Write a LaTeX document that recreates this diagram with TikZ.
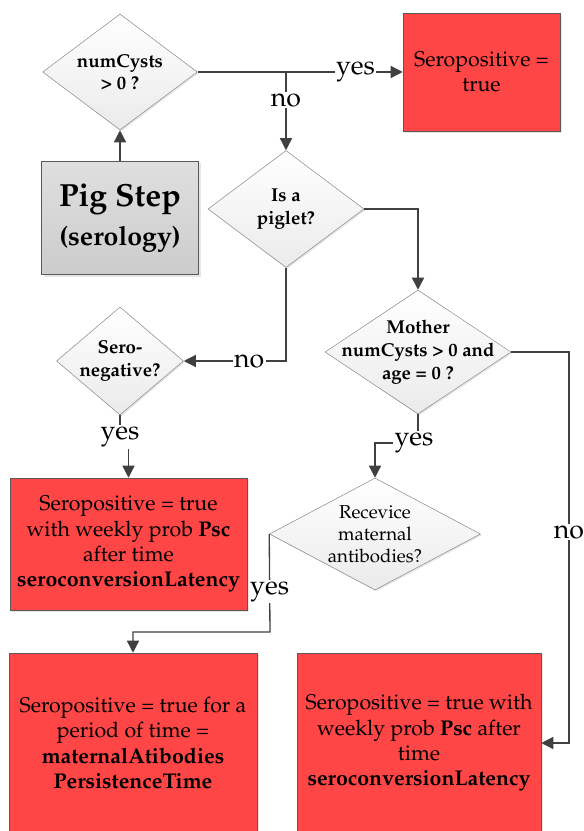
\documentclass[tikz,border=0pt]{standalone}
\usepackage[T1]{fontenc}
\usepackage{mathpazo}
\usetikzlibrary{arrows.meta,shapes.geometric,shadows}
\definecolor{boxred}{RGB}{255,70,70}
\definecolor{darkline}{RGB}{64,64,64}
\tikzstyle{query}=[diamond, draw=gray!90, top color=white, bottom color=gray!16, inner sep=-20pt, align=center, drop shadow={opacity=0.2,shadow xshift=1pt,shadow yshift=-1pt}, font=\bfseries\fontsize{14}{17}\selectfont]
\tikzstyle{outcome}=[rectangle, draw=gray!70!black, fill=boxred, align=center, drop shadow={opacity=0.2,shadow xshift=1.5pt,shadow yshift=-1.5pt}, font=\fontsize{16}{19}\selectfont]
\tikzstyle{flow}=[draw=darkline, line width=1pt, -{Triangle[length=9pt,width=9pt]}]
\tikzstyle{lbl}=[fill=white, inner sep=1pt, text=black, font=\fontsize{20}{22}\selectfont]
\newcommand{\query}{\node[query]}
\newcommand{\outcome}{\node[outcome]}

\begin{document}
\begin{tikzpicture}[x=0.75pt, y=-0.75pt]
\useasboundingbox (0,0) rectangle (583,831);
\query (cysts) at (120,72) [minimum width=116pt, minimum height=87pt] {numCysts\\> 0 ?};
\node[rectangle, draw=gray!70!black, top color=gray!25, bottom color=gray!40, drop shadow={opacity=0.2,shadow xshift=1.5pt,shadow yshift=-1.5pt}, minimum width=117.75pt, minimum height=84.75pt, align=center, font=\bfseries\fontsize{24}{29}\selectfont]
  (pig) at (120,218) {Pig Step\\{\fontsize{20}{24}\selectfont (serology)}};
\outcome (pos) at (481.5,72) [minimum width=117.75pt, minimum height=88.5pt] {Seropositive =\\true};
\query (piglet) at (286,209) [minimum width=117pt, minimum height=87.75pt] {Is a\\piglet?};
\query (mother) at (418,352) [minimum width=139.5pt, minimum height=93pt] {Mother\\numCysts > 0 and\\age = 0 ?};
\query (seroneg) at (120,361) [minimum width=95.25pt, minimum height=81pt] {Sero-\\negative?};
\outcome (latent) at (128.5,544) [minimum width=177.75pt, minimum height=99pt]
  {Seropositive = true\\with weekly prob \textbf{Psc}\\after time\\\textbf{seroconversionLatency}};
\query (maternal) at (375,534) [minimum width=158.25pt, minimum height=84pt, font=\fontsize{14}{16.5}\selectfont]
  {Recevice\\maternal\\antibodies?};
\outcome (persist) at (133,743) [minimum width=186pt, minimum height=135pt]
  {Seropositive = true for a\\period of time =\\\textbf{maternalAtibodies}\\\textbf{PersistenceTime}};
\outcome (latent2) at (419,743) [minimum width=183pt, minimum height=135pt]
  {Seropositive = true with\\weekly prob \textbf{Psc} after\\time\\\textbf{seroconversionLatency}};

% bends
\coordinate (split) at (piglet.north |- cysts.east);
\coordinate (b0) at (120,437);
\coordinate (b1) at (418,443);
\coordinate (b2) at (270,632);
\coordinate (b3) at (569,743);

\draw[flow] (pig.north) -- (cysts.south);
\draw[flow] (cysts.east) -- node[lbl,pos=0.77]{yes} (pos.west);
\draw[flow] (split) -- node[lbl,pos=0.36]{no} (piglet.north);
\draw[flow] (piglet.east) -| (mother.north);
\draw[flow] (piglet.south) |- node[lbl,pos=0.68]{no} (seroneg.east);
\draw[flow] (seroneg.south) -- (b0) node[lbl]{yes} -| (latent.north);
\draw[flow] (mother.south) -- (b1) node[lbl,xshift=-3pt]{yes} -| (maternal.north);
\draw[flow] (maternal.west) -- node[lbl,pos=0.59]{yes} (b2) -| (persist.north);
\draw[flow] (mother.east) -| node[lbl,pos=0.73]{no} (b3) -- (latent2.east);
\end{tikzpicture}
\end{document}
